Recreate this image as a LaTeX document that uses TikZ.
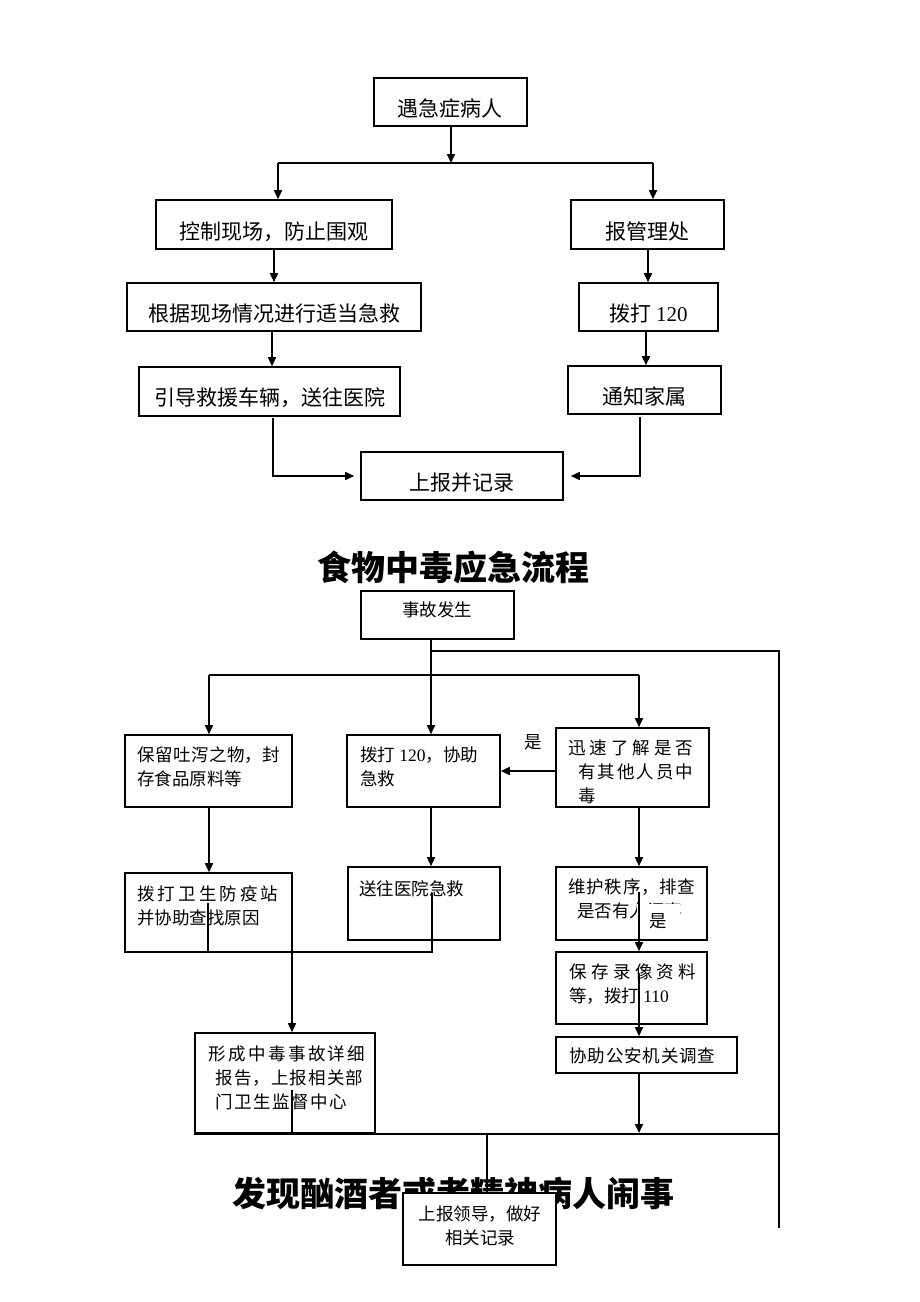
\documentclass[tikz,border=0pt]{standalone}
\usepackage{fontspec}
\setmainfont{Liberation Serif}
\newfontfamily\cjk{Noto Sans CJK SC}
\usetikzlibrary{arrows.meta}
\newcommand\spr[2]{\makebox[#1pt]{#2}}
\tikzset{
  bx/.style 2 args={draw=black, line width=0.8pt, fill=white, rectangle, inner sep=0pt, minimum width=#1*0.5pt, minimum height=#2*0.5pt},
  ln/.style={line width=0.8pt},
  arr/.style={ln, -{Triangle[length=4.5pt,width=4pt]}},
  tt/.style={inner sep=0pt, font=\cjk\fontsize{10.5pt}{12pt}\selectfont, anchor=base},
  tl/.style={inner sep=0pt, font=\cjk\fontsize{8.75pt}{12pt}\selectfont, anchor=base west, align=left},
  tc/.style={inner sep=0pt, font=\cjk\fontsize{8.75pt}{12pt}\selectfont, anchor=base, align=center},
  ttl/.style={inner sep=0pt, font=\cjk\bfseries\fontsize{17pt}{20pt}\selectfont, anchor=base},
  wl/.style={fill=white, inner sep=0pt, minimum width=21.5pt, minimum height=17pt, font=\cjk\fontsize{8.75pt}{12pt}\selectfont},
}
\begin{document}
\begin{tikzpicture}[x=0.5pt,y=-0.5pt]
\fill[white] (0,0) rectangle (920,1302);
\useasboundingbox (0,0) rectangle (920,1302);
% ---------- top flow ----------
\node[bx={153}{48}] (b1) at (450.5,102) {};
\node[bx={236}{49}] (b2) at (274,224.5) {};
\node[bx={153}{49}] (b3) at (647.5,224.5) {};
\node[bx={294}{48}] (b4) at (274,307) {};
\node[bx={139}{48}] (b5) at (648.5,307) {};
\node[bx={261}{49}] (b6) at (269.5,391.5) {};
\node[bx={153}{48}] (b7) at (644.5,390) {};
\node[bx={202}{48}] (b8) at (462,476) {};
\node[tt] (t1) at (450,116) {遇急症病人};
\node[tt] (t2) at (274,239) {控制现场，防止围观};
\node[tt] (t3) at (647,239) {报管理处};
\node[tt] (t4) at (274,321) {根据现场情况进行适当急救};
\node[tt] (t5) at (648.5,321) {拨打 {\rmfamily 120}};
\node[tt] (t6) at (269.5,405) {引导救援车辆，送往医院};
\node[tt] (t7) at (644.5,404) {通知家属};
\node[tt] (t8) at (462,490) {上报并记录};
\coordinate (jL) at (278,163);
\coordinate (jR) at (653,163);
\draw[arr] ([xshift=0.25pt]b1.south) -- ([xshift=0.25pt]b1.south |- jL);
\draw[ln] (jL) -- (jR);
\draw[arr] (jL) -- (jL |- b2.north);
\draw[arr] (jR) -- (jR |- b3.north);
\draw[arr] (b2.south) -- (b2.south |- b4.north);
\draw[arr] ([xshift=-1pt]b4.south) -- ([xshift=-1pt]b4.south |- b6.north);
\draw[arr] ([xshift=0.25pt]b3.south) -- ([xshift=0.25pt]b3.south |- b5.north);
\draw[arr] ([xshift=-1.25pt]b5.south) -- ([xshift=-1.25pt]b5.south |- b7.north);
\draw[arr] ([xshift=1.75pt,yshift=-0.5pt]b6.south) |- ([xshift=-3pt]b8.west);
\draw[arr] ([xshift=-2.25pt,yshift=-1pt]b7.south) |- ([xshift=3.5pt]b8.east);
% ---------- food poisoning ----------
\node[ttl] (h1) at (453,580) {食物中毒应急流程};
\node[ttl] (h2) at (453,1206) {发现酗酒者或者精神病人闹事};
\node[bx={153}{48}] (c1) at (437.5,615) {};
\node[bx={167}{72}] (c2) at (208.5,771) {};
\node[bx={153}{72}] (c3) at (423.5,771) {};
\node[bx={153}{79}] (c4) at (632.5,767.5) {};
\node[bx={167}{79}] (c5) at (208.5,912.5) {};
\node[bx={152}{73}] (c6) at (424,903.5) {};
\node[bx={151}{73}] (c7) at (631.5,903.5) {};
\node[bx={151}{72}] (c8) at (631.5,988) {};
\node[bx={181}{36}] (c9) at (646.5,1055) {};
\node[bx={180}{100}] (c10) at (285,1083) {};
\node[bx={153}{72}] (c11) at (479.5,1229) {};
\node[tc] (u1) at (437,616) {事故发生};
\node[tl] (u2) at (137,785) {\spr{71.5}{保\hfill 留\hfill 吐\hfill 泻\hfill 之\hfill 物\hfill ，\hfill 封}\\存食品原料等};
\node[tl] (u3) at (360,785) {拨打 {\rmfamily 120}，协助\\急救};
\node[tl] (u4) at (568,802) {\spr{62.5}{迅\hfill 速\hfill 了\hfill 解\hfill 是\hfill 否}\\\hspace*{5pt}\spr{57.5}{有\hfill 其\hfill 他\hfill 人\hfill 员\hfill 中}\\\hspace*{5pt}毒};
\node[tl] (u5) at (137,924) {\spr{70.5}{拨\hfill 打\hfill 卫\hfill 生\hfill 防\hfill 疫\hfill 站}\\并协助查找原因};
\node[tl] (u6) at (359,895) {送往医院急救};
\node[tl] (u7) at (568,917) {\spr{63.5}{维\hfill 护\hfill 秩\hfill 序\hfill ，\hfill 排\hfill 查}\\\hspace*{4.5pt}是否有人闹事};
\node[tl] (u8) at (569,1002) {\spr{63.5}{保\hfill 存\hfill 录\hfill 像\hfill 资\hfill 料}\\等，拨打 {\rmfamily 110}};
\node[tl] (u9) at (569,1062) {\spr{73}{协\hfill 助\hfill 公\hfill 安\hfill 机\hfill 关\hfill 调\hfill 查}};
\node[tl] (u10) at (208,1108) {\spr{78.5}{形\hfill 成\hfill 中\hfill 毒\hfill 事\hfill 故\hfill 详\hfill 细}\\\hspace*{3.5pt}\spr{74}{报\hfill 告\hfill ，\hfill 上\hfill 报\hfill 相\hfill 关\hfill 部}\\\hspace*{3.5pt}\spr{66}{门\hfill 卫\hfill 生\hfill 监\hfill 督\hfill 中\hfill 心}};
\node[tc] (u11) at (480,1244) {上报领导，做好\\相关记录};
\node[tt, font=\cjk\fontsize{8.75pt}{12pt}\selectfont] (y1) at (533,748) {是};
\node[wl] (y2) at (658.5,921) {是};
% connectors
\coordinate (k1) at (431,651);
\coordinate (k2) at (779,651);
\coordinate (k3) at (779,1228);
\coordinate (mL) at (209,675);
\coordinate (mR) at (639,675);
\draw[arr] ([xshift=-3.25pt]c1.south) -- ([xshift=-3.25pt]c1.south |- c3.north);
\draw[ln] (k1) -- (k2) -- (k3);
\draw[ln] (mL) -- (mR);
\draw[arr] (mL) -- (mL |- c2.north);
\draw[arr] (mR) -- (mR |- c4.north);
\draw[arr] ([yshift=-1.75pt]c4.west) -- ([yshift=-1.75pt]c4.west -| c3.east);
\draw[arr] ([xshift=0.25pt]c2.south) -- ([xshift=0.25pt]c2.south |- c5.north);
\draw[arr] ([xshift=3.75pt]c3.south) -- ([xshift=3.75pt]c3.south |- c6.north);
\draw[arr] ([xshift=3.25pt]c4.south) -- ([xshift=3.25pt]c4.south |- c7.north);
\coordinate (n1) at (639,892);
\draw[arr] (n1) -- (n1 |- c8.north);
\coordinate (n2) at (639,973);
\draw[arr] (n2) -- (n2 |- c9.north);
\coordinate (n3) at (639,1133);
\draw[arr] ([xshift=-3.75pt]c9.south) -- ([xshift=-3.75pt]c9.south |- n3);
\coordinate (p1) at (208,903);
\coordinate (p2) at (208,952);
\coordinate (p3) at (432,952);
\coordinate (p4) at (432,893);
\draw[ln] (p1) -- (p2) -- (p3) -- (p4);
\coordinate (p5) at (292,952);
\draw[arr] (p5) -- (p5 |- c10.north);
\coordinate (p6) at (292,1090);
\draw[ln] (p6) -- (p6 |- c10.south);
\draw[ln] (c10.south west) -- (c10.south west -| k3);
\coordinate (q1) at (487,1133);
\draw[ln] (q1) -- (q1 |- c11.north);
\end{tikzpicture}
\end{document}
